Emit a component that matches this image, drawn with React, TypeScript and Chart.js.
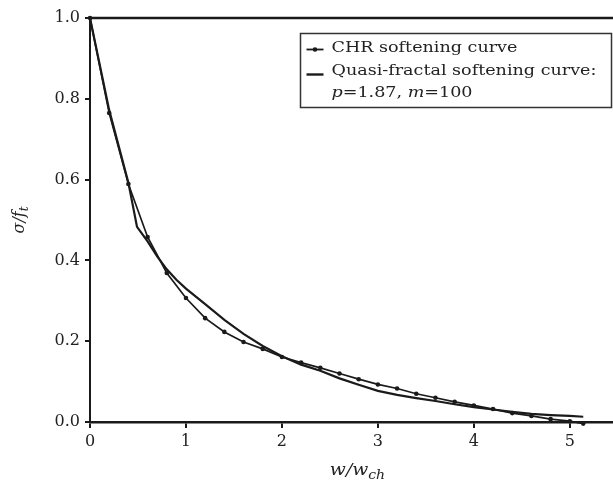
import React, { useEffect, useRef } from "react";
import { Chart, registerables } from "chart.js";

Chart.register(...registerables);

// CHR softening curve (with markers)
const chrX = [0, 0.2, 0.4, 0.6, 0.8, 1.0, 1.2, 1.4, 1.6, 1.8, 2.0, 2.2, 2.4, 2.6, 2.8, 3.0, 3.2, 3.4, 3.6, 3.8, 4.0, 4.2, 4.4, 4.6, 4.8, 5.0, 5.14];
const chrY = [1.0, 0.765, 0.589, 0.458, 0.369, 0.307, 0.257, 0.223, 0.198, 0.181, 0.161, 0.147, 0.134, 0.12, 0.106, 0.093, 0.083, 0.07, 0.06, 0.05, 0.041, 0.032, 0.022, 0.015, 0.007, 0.002, -0.004];

// Quasi-fractal softening curve (solid line)
const quasiX = [0, 0.2, 0.4, 0.49, 0.6, 0.7, 0.8, 0.9, 1.0, 1.2, 1.4, 1.6, 1.8, 2.0, 2.2, 2.4, 2.6, 2.8, 3.0, 3.2, 3.4, 3.6, 3.8, 4.0, 4.2, 4.4, 4.6, 4.8, 5.0, 5.14];
const quasiY = [1.0, 0.772, 0.592, 0.483, 0.447, 0.41, 0.378, 0.352, 0.33, 0.292, 0.253, 0.218, 0.188, 0.163, 0.142, 0.127, 0.108, 0.092, 0.077, 0.067, 0.059, 0.052, 0.044, 0.037, 0.031, 0.025, 0.02, 0.017, 0.015, 0.013];

const xTicks = [0, 1, 2, 3, 4, 5];
const yTicks = [0, 0.2, 0.4, 0.6, 0.8, 1.0];

const legendChr = "CHR softening curve";
const legendQuasi = "Quasi-fractal softening curve:";
const paramP = "1.87";
const paramM = "100";

const xTitleMain = "w/w";
const xTitleSub = "ch";
const yTitleMain = "σ/f";
const yTitleSub = "t";

const FONT = "'DejaVu Serif', 'Liberation Serif', serif";
const INK = "#1a1a1a";
const STRETCH = 1.17;

const overlayPlugin = {
  id: "overlay",
  beforeDatasetsDraw(chart: any) {
    const { ctx, chartArea, scales } = chart;
    const yTop = scales.y.getPixelForValue(1);
    ctx.save();
    ctx.strokeStyle = INK;
    ctx.lineWidth = 2.5;
    ctx.beginPath();
    ctx.moveTo(chartArea.left, yTop);
    ctx.lineTo(chart.width, yTop);
    ctx.stroke();
    ctx.restore();
  },
  afterDraw(chart: any) {
    const { ctx, chartArea } = chart;
    ctx.save();
    // Legend box
    const bx = chartArea.left + 210.5;
    const by = chartArea.top + 15.5;
    const bw = chart.width - 1.5 - bx;
    const bh = 74;
    ctx.fillStyle = "#fff";
    ctx.fillRect(bx, by, bw, bh);
    ctx.strokeStyle = "#333";
    ctx.lineWidth = 1.5;
    ctx.strokeRect(bx, by, bw, bh);

    const tx = bx + 31;
    const l1 = by + 15;
    const l2 = by + 38;
    const l3 = by + 60;
    // CHR sample
    ctx.strokeStyle = INK;
    ctx.lineWidth = 1.8;
    ctx.beginPath();
    ctx.moveTo(bx + 6, l1 + 1);
    ctx.lineTo(bx + 23, l1 + 1);
    ctx.stroke();
    ctx.fillStyle = INK;
    ctx.beginPath();
    ctx.arc(bx + 14.5, l1 + 1, 2.3, 0, Math.PI * 2);
    ctx.fill();
    // Quasi sample
    ctx.lineWidth = 2.4;
    ctx.beginPath();
    ctx.moveTo(bx + 6, l2 + 3);
    ctx.lineTo(bx + 23, l2 + 3);
    ctx.stroke();

    ctx.fillStyle = "#222";
    ctx.textBaseline = "middle";
    ctx.textAlign = "left";
    ctx.save();
    ctx.translate(tx, 0);
    ctx.scale(STRETCH, 1);
    ctx.font = `15px ${FONT}`;
    ctx.fillText(legendChr, 0, l1);
    ctx.fillText(legendQuasi, 0, l2);
    // third line: p=1.87, m=100
    let cx = 0;
    const seg = (t: string, italic: boolean) => {
      ctx.font = `${italic ? "italic " : ""}15px ${FONT}`;
      ctx.fillText(t, cx, l3);
      cx += ctx.measureText(t).width;
    };
    seg("p", true);
    seg("=" + paramP + ", ", false);
    seg("m", true);
    seg("=" + paramM, false);
    ctx.restore();

    // X title
    ctx.save();
    const xc = (chartArea.left + chartArea.right) / 2 + 6;
    ctx.translate(xc, 0);
    ctx.scale(STRETCH, 1);
    ctx.font = `italic 16px ${FONT}`;
    const mw = ctx.measureText(xTitleMain).width;
    ctx.font = `italic 12px ${FONT}`;
    const sw = ctx.measureText(xTitleSub).width;
    const xs = -(mw + sw) / 2;
    ctx.textBaseline = "alphabetic";
    ctx.font = `italic 16px ${FONT}`;
    ctx.fillText(xTitleMain, xs, 475);
    ctx.font = `italic 12px ${FONT}`;
    ctx.fillText(xTitleSub, xs + mw, 479);
    ctx.restore();

    // Y title (rotated)
    ctx.translate(24, (chartArea.top + chartArea.bottom) / 2);
    ctx.rotate(-Math.PI / 2);
    ctx.textBaseline = "alphabetic";
    ctx.font = `italic 16px ${FONT}`;
    const ymw = ctx.measureText(yTitleMain).width;
    ctx.font = `italic 12px ${FONT}`;
    const ysw = ctx.measureText(yTitleSub).width;
    const ys = -(ymw + ysw) / 2;
    ctx.font = `italic 16px ${FONT}`;
    ctx.fillText(yTitleMain, ys, 0);
    ctx.font = `italic 12px ${FONT}`;
    ctx.fillText(yTitleSub, ys + ymw, 4);
    ctx.restore();
  },
};

export default function App() {
  const ref = useRef<HTMLCanvasElement | null>(null);
  useEffect(() => {
    if (!ref.current) return;
    const chart = new Chart(ref.current, {
      type: "line",
      data: {
        datasets: [
          {
            label: legendQuasi,
            data: quasiX.map((x, i) => ({ x, y: quasiY[i] })),
            borderColor: INK,
            borderWidth: 2.2,
            pointRadius: 0,
            tension: 0,
            clip: false as any,
          },
          {
            label: legendChr,
            data: chrX.map((x, i) => ({ x, y: chrY[i] })),
            borderColor: INK,
            borderWidth: 1.7,
            pointRadius: 2.3,
            pointBackgroundColor: INK,
            pointBorderWidth: 0,
            tension: 0,
            clip: false as any,
          },
        ],
      },
      options: {
        animation: false,
        responsive: false,
        devicePixelRatio: 1,
        layout: { padding: { top: 18, right: 0, bottom: 0, left: 0 }, autoPadding: false },
        plugins: {
          legend: { display: false },
          tooltip: { enabled: false },
        },
        scales: {
          x: {
            type: "linear",
            min: 0,
            max: 5.45,
            afterBuildTicks: (scale: any) => {
              scale.ticks = xTicks.map((v) => ({ value: v }));
            },
            afterFit: (scale: any) => {
              scale.height = 65;
              scale.paddingRight = 0;
              scale.paddingLeft = 0;
            },
            ticks: {
              color: "#222",
              font: { family: FONT, size: 16 },
              padding: 4,
              maxRotation: 0,
              callback: (v: any) => String(v),
            },
            grid: {
              drawOnChartArea: false,
              drawTicks: true,
              tickLength: 6,
              color: INK,
              lineWidth: 2,
            },
            border: { display: true, color: INK, width: 2.5 },
          },
          y: {
            type: "linear",
            min: 0,
            max: 1,
            afterBuildTicks: (scale: any) => {
              scale.ticks = yTicks.map((v) => ({ value: v }));
            },
            afterFit: (scale: any) => {
              scale.width = 90;
              scale.paddingTop = 0;
              scale.paddingBottom = 0;
            },
            ticks: {
              color: "#222",
              font: { family: FONT, size: 16 },
              padding: 5,
              callback: (v: any) => Number(v).toFixed(1),
            },
            grid: {
              drawOnChartArea: false,
              drawTicks: true,
              tickLength: 5,
              color: INK,
              lineWidth: 2,
            },
            border: { display: true, color: INK, width: 2 },
          },
        },
      },
      plugins: [overlayPlugin],
    });
    return () => chart.destroy();
  }, []);
  return (
    <div style={{ position: "absolute", left: 0, top: 0, width: 613, height: 487, background: "#fff" }}>
      <canvas ref={ref} width={613} height={487} />
    </div>
  );
}
